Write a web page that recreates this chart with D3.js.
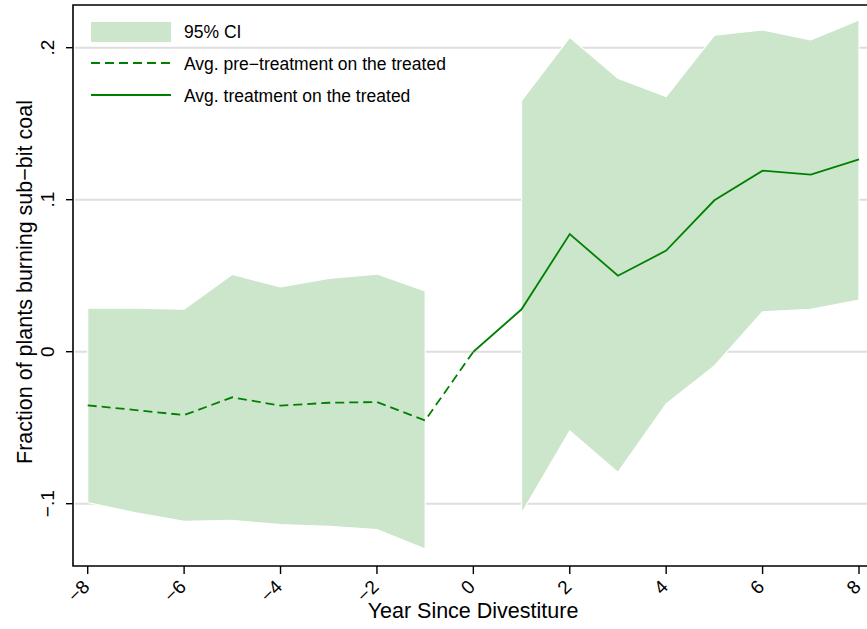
<!DOCTYPE html>
<html>
<head>
<meta charset="utf-8">
<script src="https://cdn.jsdelivr.net/npm/d3@7"></script>
<style>
	body{margin:0;background:#fff;}
	svg{display:block;font-family:"Liberation Sans",Arial,Helvetica,sans-serif;}
</style>
</head>
<body>
<svg id="chart" width="867" height="629"></svg>
<script>
// years and estimates
var preYears  = [-8,-7,-6,-5,-4,-3,-2,-1,0];
var preMean   = [-0.0353,-0.0384,-0.0417,-0.0300,-0.0355,-0.0336,-0.0331,-0.0452,0];
var preUpper  = [0.0287,0.0287,0.0280,0.0509,0.0426,0.0482,0.0511,0.0400];
var preLower  = [-0.0993,-0.1060,-0.1116,-0.1110,-0.1138,-0.1149,-0.1170,-0.1298];

var postYears = [0,1,2,3,4,5,6,7,8];
var postMean  = [0,0.0279,0.0774,0.0500,0.0665,0.0996,0.1191,0.1165,0.1266];
var postUpper = [0.1651,0.2068,0.1799,0.1678,0.2082,0.2117,0.2051,0.2182];
var postLower = [-0.1063,-0.0522,-0.0794,-0.0344,-0.0094,0.0263,0.0279,0.0340];

var xTicks = [-8,-6,-4,-2,0,2,4,6,8];
var yTicks = [-0.1,0,0.1,0.2];
var yTickLabels = ["\u2212.1","0",".1",".2"];

var svg = d3.select("#chart");
var plotL = 73, plotT = 5, plotR = 870, plotB = 566;
var green = "#008000", ciFill = "#cce6cc";

var x = d3.scaleLinear().domain([-8,8]).range([87.7,859]);
var y = d3.scaleLinear().domain([0,0.1]).range([351.7,199.7]);

// gridlines
svg.append("g").selectAll("line")
	.data(yTicks).enter()
	.append("line")
	.attr("x1",plotL+2).attr("x2",plotR)
	.attr("y1",function(d){return y(d);}).attr("y2",function(d){return y(d);})
	.style("stroke","#dedede").style("stroke-width",2);

// confidence bands (no band at year 0)
var area = d3.area()
	.x(function(d){return x(d.t);})
	.y0(function(d){return y(d.lo);})
	.y1(function(d){return y(d.hi);});

var preBand = preUpper.map(function(v,i){return {t:preYears[i],hi:v,lo:preLower[i]};});
var postBand = postUpper.map(function(v,i){return {t:postYears[i+1],hi:v,lo:postLower[i]};});

svg.append("g").selectAll("path")
	.data([preBand,postBand]).enter()
	.append("path")
	.attr("d",area)
	.style("fill",ciFill)
	.style("stroke","#fff")
	.style("stroke-width",1.2);

var line = d3.line()
	.x(function(d){return x(d[0]);})
	.y(function(d){return y(d[1]);});

svg.append("path")
	.attr("d",line(preYears.map(function(t,i){return [t,preMean[i]];})))
	.style("fill","none").style("stroke",green).style("stroke-width",1.8)
	.style("stroke-dasharray","9,5");

svg.append("path")
	.attr("d",line(postYears.map(function(t,i){return [t,postMean[i]];})))
	.style("fill","none").style("stroke",green).style("stroke-width",1.8);

// frame
svg.append("path")
	.attr("d","M"+plotR+","+plotT+"H"+plotL+"V"+plotB+"H"+plotR)
	.style("fill","none").style("stroke","#000").style("stroke-width",1.6);

// y axis
var yAxis = svg.append("g");
yAxis.selectAll("line").data(yTicks).enter().append("line")
	.attr("x1",plotL-7).attr("x2",plotL)
	.attr("y1",function(d){return y(d);}).attr("y2",function(d){return y(d);})
	.style("stroke","#000").style("stroke-width",1.4);
yAxis.selectAll("text").data(yTicks).enter().append("text")
	.attr("transform",function(d){return "translate(54,"+y(d)+") rotate(-90)";})
	.attr("text-anchor","middle")
	.style("font-size","19px")
	.text(function(d,i){return yTickLabels[i];});

svg.append("text")
	.attr("transform","translate(32,282) rotate(-90)")
	.attr("text-anchor","middle")
	.style("font-size","21.5px")
	.text("Fraction of plants burning sub\u2212bit coal");

// x axis
var xAxis = svg.append("g");
xAxis.selectAll("line").data(xTicks).enter().append("line")
	.attr("x1",function(d){return x(d);}).attr("x2",function(d){return x(d);})
	.attr("y1",plotB).attr("y2",plotB+8)
	.style("stroke","#000").style("stroke-width",1.4);
xAxis.selectAll("text").data(xTicks).enter().append("text")
	.attr("transform",function(d){return "translate("+(x(d)+3)+","+(plotB+22)+") rotate(-45)";})
	.attr("text-anchor","end")
	.style("font-size","19px")
	.text(function(d){return d<0 ? "\u2212"+(-d) : d;});

svg.append("text")
	.attr("x",473).attr("y",618)
	.attr("text-anchor","middle")
	.style("font-size","21.5px")
	.text("Year Since Divestiture");

// legend
var lg = svg.append("g");
lg.append("rect").attr("x",91).attr("y",22).attr("width",80).attr("height",20).style("fill",ciFill);
lg.append("line").attr("x1",91).attr("x2",171).attr("y1",63).attr("y2",63)
	.style("stroke",green).style("stroke-width",1.8).style("stroke-dasharray","9,5");
lg.append("line").attr("x1",91).attr("x2",171).attr("y1",95).attr("y2",95)
	.style("stroke",green).style("stroke-width",1.8);
lg.selectAll("text")
	.data(["95% CI","Avg. pre\u2212treatment on the treated","Avg. treatment on the treated"])
	.enter().append("text")
	.attr("x",184)
	.attr("y",function(d,i){return 38+i*32;})
	.style("font-size","17.5px")
	.text(function(d){return d;});
</script>
</body>
</html>
